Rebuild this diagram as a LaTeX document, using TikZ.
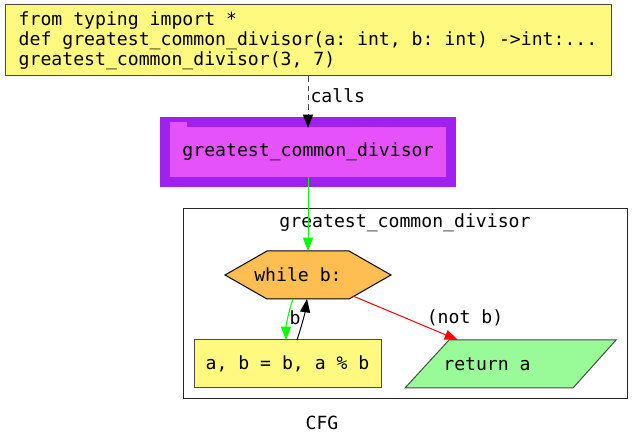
\documentclass[tikz,border=0pt]{standalone}
\usepackage{fontspec}
\setmonofont{DejaVu Sans Mono}
\usetikzlibrary{arrows.meta,positioning}
\definecolor{codeyellow}{HTML}{FFF980}
\definecolor{looporange}{HTML}{FEBE52}
\definecolor{retgreen}{HTML}{98FB98}
\definecolor{fnpurple}{HTML}{A020F0}
\definecolor{fnpink}{HTML}{E552FA}
\definecolor{edgegray}{HTML}{4A4A4A}
\definecolor{flowgreen}{HTML}{00FF00}

\begin{document}
\begin{tikzpicture}[x=0.75pt,y=-0.75pt,line width=0.75pt,
  >={Triangle[length=10pt,width=7.5pt]},
  every node/.style={font=\ttfamily\fontsize{13.6}{15}\selectfont,inner sep=0pt},
  codebox/.style={draw=edgegray,fill=codeyellow,align=left,minimum width=454.5pt,minimum height=53.25pt},
  fnbox/.style={draw=fnpurple,line width=7.5pt,fill=fnpink,minimum width=214.5pt,minimum height=45pt,outer sep=0pt},
  stmtbox/.style={draw=edgegray,fill=codeyellow,minimum width=140.25pt,minimum height=36pt}]
\useasboundingbox (0,0) rectangle (643,445);
% call site and function
\node[codebox] (code) at (308,40.5) {from typing import *\\def greatest\_common\_divisor(a: int, b: int) ->int:...\\greatest\_common\_divisor(3, 7)};
\node[fnbox] (fn) at (308,152) {};
\fill[fnpink] (170,122) rectangle (187,127.5);
\node (fnname) at (308,152) {greatest\_common\_divisor};
\coordinate (callend) at (308,128);
\draw[-{Triangle[length=10pt,width=7.5pt,black]},edgegray,dash pattern=on 4pt off 3pt] (code.south) -- (callend);
\node[anchor=west] (calls) at (310,96) {calls};
% cluster
\node[draw=black!85,minimum width=333pt,minimum height=142.5pt] (cluster) at (405,304) {};
\node (clabel) at (405,223) {greatest\_common\_divisor};
\filldraw[draw=black,fill=looporange] (225,275) -- (267,251) -- (349,251) -- (391,275) -- (349,299) -- (267,299) -- cycle;
\node (loop) at (298,275) {while b:};
\node[stmtbox] (assign) at (287.5,364) {a, b = b, a \% b};
\filldraw[draw=edgegray,fill=retgreen] (405,388) -- (449,340) -- (616,340) -- (573,388) -- cycle;
\node (ret) at (487,364) {return a};
% flow edges
\coordinate (looptop) at (308,251);
\draw[->,flowgreen] ([yshift=3.75pt]fn.south) -- (looptop);
\coordinate (bstart) at (293,299);
\coordinate (bend) at (286,340);
\draw[->,flowgreen] (bstart) .. controls (289,310) and (286,325) .. (bend);
\node (blabel) at (295,318) {b};
\coordinate (back) at (297,340);
\coordinate (backend) at (307,299);
\draw[->,black] (back) .. controls (301,328) and (305,313) .. (backend);
\coordinate (exit) at (353,296);
\coordinate (exitend) at (458,340);
\draw[->,red] (exit) -- (exitend);
\node (notb) at (465,318) {(not b)};
\node (title) at (322,423) {CFG};
\end{tikzpicture}
\end{document}
